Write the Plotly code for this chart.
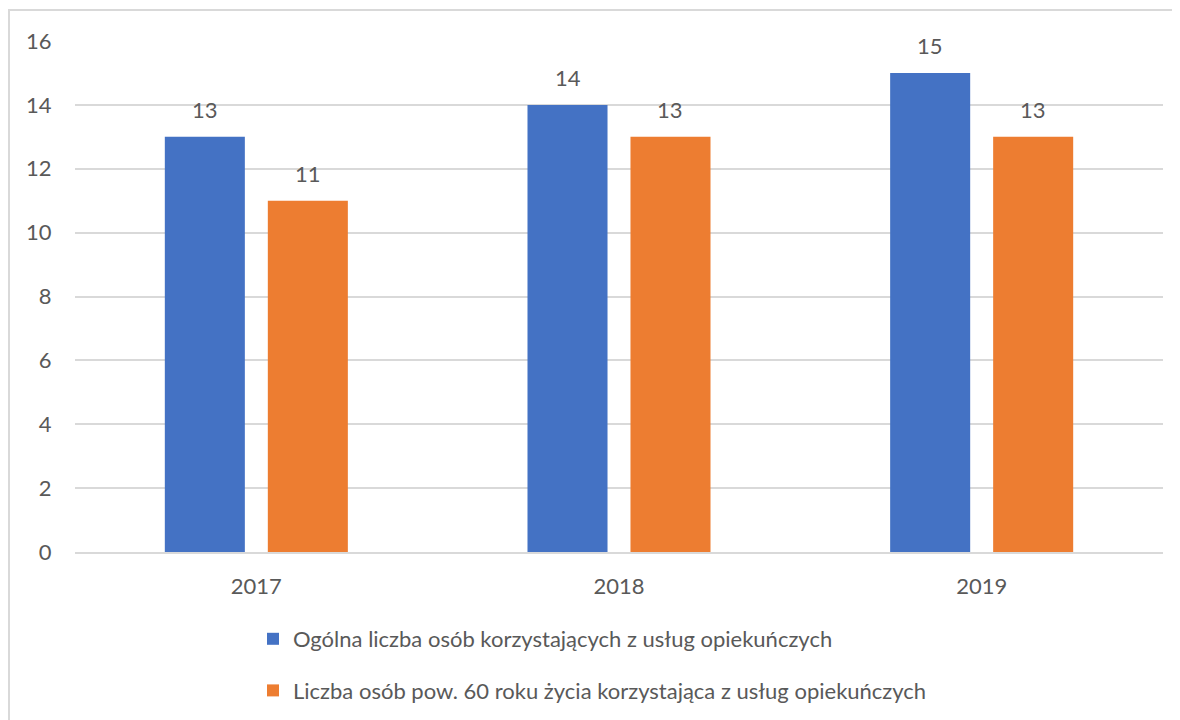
import plotly.graph_objects as go

categories = ["2017", "2018", "2019"]
series_names = [
    "Ogólna liczba osób korzystających z usług opiekuńczych",
    "Liczba osób pow. 60 roku życia korzystająca z usług opiekuńczych",
]
values_total = [13, 14, 15]
values_60 = [11, 13, 13]
colors = ["#4472C4", "#ED7D31"]
y_ticks = [0, 2, 4, 6, 8, 10, 12, 14, 16]

FONT = "Lato"
GRAY = "#595959"
FS = 22

fig = go.Figure()
all_series = [values_total, values_60]
for i, (name, vals) in enumerate(zip(series_names, all_series)):
    fig.add_trace(go.Bar(
        x=categories, y=vals, name=name, marker_color=colors[i],
        marker_line_width=0, legendgroup=f"g{i}",
    ))

# page body has an 8px margin, so the figure is sized to fit the window
W, H = 1172, 712
L, R, T, B = 67, 17, 33, 168
plot_w = W - L - R
plot_h = H - T - B
cat_w = plot_w / len(categories)
bargap = 0.432
slot = cat_w * (1 - bargap) / 2
for i, vals in enumerate(all_series):
    shift = (i - 0.5) * slot
    for j, v in enumerate(vals):
        fig.add_annotation(x=j, y=v, text=str(v), showarrow=False,
                           xshift=shift, yshift=27, xref="x", yref="y",
                           font=dict(family=FONT, size=FS, color=GRAY))

fig.update_layout(
    width=W, height=H,
    margin=dict(l=L, r=R, t=T, b=B, autoexpand=False),
    paper_bgcolor="white", plot_bgcolor="white",
    barmode="group", bargap=bargap, bargroupgap=0.223,
    font=dict(family=FONT, size=FS, color=GRAY),
    showlegend=True,
    legend=dict(x=(245 - L) / plot_w, y=-66 / plot_h, xanchor="left", yanchor="top",
                orientation="v", tracegroupgap=20,
                font=dict(family=FONT, size=FS, color=GRAY)),
    xaxis=dict(type="category", range=[-0.5, len(categories) - 0.5],
               showgrid=False, showline=True,
               linecolor="#d9d9d9", linewidth=2,
               ticks="outside", ticklen=14, tickcolor="rgba(0,0,0,0)",
               tickfont=dict(family=FONT, size=FS, color=GRAY)),
    yaxis=dict(range=[0, 16], tickvals=y_ticks, showgrid=True,
               gridcolor="#d9d9d9", gridwidth=2, zeroline=False, showline=False,
               ticks="outside", ticklen=18, tickcolor="rgba(0,0,0,0)",
               tickfont=dict(family=FONT, size=FS, color=GRAY)),
)

# outer chart border (left and top edges visible)
fig.add_shape(type="rect", xref="paper", yref="paper",
              x0=(1 - L) / plot_w, x1=(W + 20 - L) / plot_w,
              y0=-(B + 20) / plot_h, y1=(H - B - 2) / plot_h,
              line=dict(color="#d9d9d9", width=2), fillcolor="rgba(0,0,0,0)",
              layer="below")

fig.write_html("out.html")
